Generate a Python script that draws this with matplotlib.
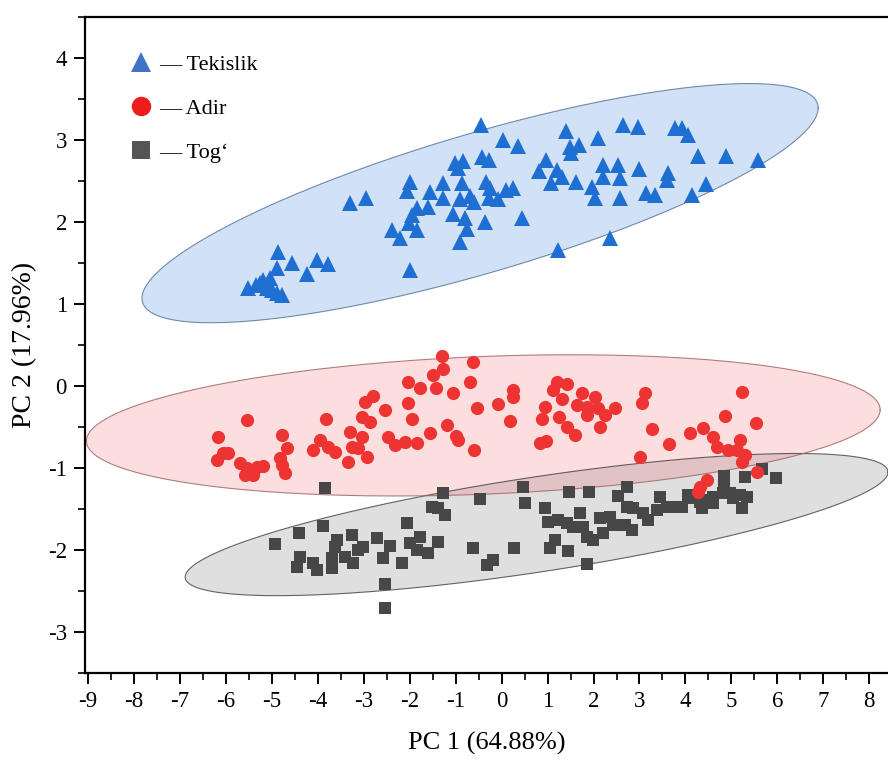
import numpy as np
import matplotlib
matplotlib.use("Agg")
import matplotlib.pyplot as plt
from matplotlib.lines import Line2D
from matplotlib.ticker import MultipleLocator

plt.rcParams['font.family'] = ['Liberation Serif', 'DejaVu Serif']
plt.rcParams['axes.unicode_minus'] = False

# ---------------- data ----------------
tek_x = [-5.52, -5.34, -5.26, -5.19, -5.11, -5.04, -5.00, -4.89, -4.78, -4.89, -4.87, -4.56, -4.23, -4.02, -3.78,
         -3.30, -2.95, -1.99,
         -0.45, 0.03, 0.36, 1.40, 2.65, 2.10, 1.49, 1.69, 1.51, -1.01, -0.84, -0.95, -0.42, -0.27, 0.97, 0.82,
         1.21, 1.32, 2.21, 2.54, 2.21, 2.58, 1.08, 1.62, 1.97, 2.04, 2.58, -1.99, -2.06, -1.56, -1.27, -1.27,
         -0.86, -0.90, -0.69, -0.60, -0.34, -0.25, -0.27, -0.08, 0.10, 0.25, -1.84, -1.60, -1.95, -2.01, -1.06,
         -0.79, -0.36, 0.45, -2.38, -2.21, -1.84, -0.90, -0.75, 1.23, 2.36,
         2.97, 3.78, 3.93, 4.06, 4.28, 4.89, 5.58, 2.99, 3.62, 3.60, 3.15, 3.34, 4.45, 4.15]
tek_y = [1.20, 1.23, 1.26, 1.29, 1.20, 1.32, 1.17, 1.13, 1.11, 1.44, 1.63, 1.50, 1.37, 1.54, 1.49,
         2.23, 2.29, 1.41,
         3.18, 3.00, 2.93, 3.11, 3.18, 3.02, 2.91, 2.94, 2.84, 2.72, 2.74, 2.66, 2.79, 2.76, 2.76, 2.62,
         2.63, 2.55, 2.70, 2.70, 2.55, 2.54, 2.48, 2.49, 2.43, 2.29, 2.29, 2.49, 2.38, 2.37, 2.48, 2.29,
         2.48, 2.28, 2.32, 2.24, 2.49, 2.41, 2.29, 2.28, 2.39, 2.41, 2.17, 2.18, 2.09, 1.99, 2.10,
         2.05, 2.00, 2.05, 1.90, 1.80, 1.90, 1.76, 1.91, 1.66, 1.80,
         3.16, 3.15, 3.15, 3.06, 2.80, 2.80, 2.76, 2.65, 2.60, 2.51, 2.35, 2.33, 2.46, 2.33]

adir_x = [-6.17, -5.54, -6.06, -6.19, -5.95, -5.69, -5.54, -5.58, -5.41, -5.32, -5.19, -4.78, -4.67, -4.82,
          -4.78, -4.71, -3.82, -3.95, -4.10, -3.78, -3.62, -3.34, -3.30, -3.25, -3.04, -3.12, -2.93, -3.04,
          -2.86, -2.97, -2.80, -2.54, -2.47, -2.32, -2.10, -1.84, -1.56, -1.95, -2.04, -2.04, -1.77, -1.49,
          -1.27, -1.30, -1.43, -1.06, -0.69, -0.62, -1.19, -0.99, -0.95, -0.60, -0.53,
          -0.08, 0.25, 0.25, 0.19, 1.21, 1.43, 1.12, 1.32, 0.95, 0.88, 1.25, 1.43, 1.60, 0.84, 0.97,
          1.75, 2.04, 1.64, 1.86, 2.10, 1.86, 2.14, 2.47, 2.25, 3.12, 3.06, 3.28, 3.02, 3.65, 4.10,
          4.39, 4.60, 4.69, 4.87, 4.93, 5.19, 5.13, 5.30, 5.24, 5.24, 5.54, 5.56, 4.32, 4.47, 4.28]
adir_y = [-0.62, -0.41, -0.82, -0.90, -0.82, -0.94, -1.00, -1.09, -1.09, -0.99, -0.98, -0.60, -0.76, -0.88,
          -0.96, -1.06, -0.40, -0.66, -0.78, -0.74, -0.80, -0.93, -0.56, -0.74, -0.62, -0.76, -0.87, -0.38,
          -0.44, -0.20, -0.12, -0.29, -0.62, -0.72, -0.68, -0.70, -0.57, -0.40, -0.21, 0.05, -0.02, 0.13,
          0.21, 0.37, -0.02, -0.09, 0.05, 0.29, -0.48, -0.61, -0.66, -0.78, -0.27,
          -0.22, -0.05, -0.13, -0.43, 0.05, 0.02, -0.05, -0.16, -0.26, -0.40, -0.38, -0.50, -0.60, -0.70, -0.67,
          -0.09, -0.13, -0.23, -0.26, -0.27, -0.35, -0.50, -0.27, -0.35, -0.09, -0.21, -0.52, -0.87, -0.71, -0.57,
          -0.51, -0.62, -0.74, -0.37, -0.78, -0.66, -0.78, -0.84, -0.93, -0.07, -0.45, -1.05, -1.23, -1.15, -1.29]

tog_x = [-3.84, -1.27, -1.51, -1.38, -1.23, -0.47, 0.47, 0.51, -3.89, -4.41, -4.93, -3.25, -3.58, -3.62,
         -2.71, -3.02, -3.12, -2.43, -2.58, -2.06, -1.77, -1.99, -1.84, -1.60, -1.38, -4.39, -4.45, -4.10,
         -4.02, -3.69, -3.69, -3.41, -3.23, -2.17, -2.54, -2.54, -0.62, 0.27, -0.19, -0.32,
         1.47, 1.90, 2.73, 2.54, 0.95, 1.01, 1.06, 1.16, 1.45, 1.86, 1.71, 1.77, 1.56, 1.43, 1.23, 1.86,
         1.99, 2.21, 2.14, 2.36, 2.43, 2.69, 2.84, 2.73, 2.86, 3.08, 3.19, 3.39, 3.45, 3.60, 3.73, 3.93,
         4.06, 4.17, 4.32, 4.36, 4.47, 4.60, 4.60, 4.84, 4.84, 4.82, 4.97, 5.04, 5.19, 5.34, 5.24, 5.30,
         5.67, 5.98]
tog_y = [-1.24, -1.30, -1.48, -1.49, -1.57, -1.38, -1.23, -1.43, -1.71, -1.79, -1.93, -1.82, -1.88, -1.96,
         -1.85, -1.96, -2.00, -1.95, -2.10, -1.67, -1.84, -1.91, -2.00, -2.04, -1.90, -2.09, -2.21, -2.16,
         -2.24, -2.10, -2.22, -2.09, -2.16, -2.16, -2.41, -2.71, -1.98, -1.98, -2.12, -2.18,
         -1.29, -1.29, -1.23, -1.34, -1.49, -1.66, -1.98, -1.88, -2.01, -2.17, -1.55, -1.72, -1.72, -1.67,
         -1.63, -1.84, -1.88, -1.79, -1.61, -1.60, -1.70, -1.70, -1.76, -1.48, -1.49, -1.55, -1.63, -1.51,
         -1.35, -1.48, -1.48, -1.48, -1.33, -1.37, -1.41, -1.49, -1.39, -1.35, -1.43, -1.10, -1.21, -1.30,
         -1.30, -1.37, -1.33, -1.35, -1.49, -1.11, -1.01, -1.12]

# confidence ellipses: centre, semi-diameter to the x-extreme point, half vertical chord at centre
ell_center = {'Tekislik': (-0.47, 2.23), 'Adir': (-0.40, -0.48), 'Tog': (0.76, -1.69)}
ell_axis = {'Tekislik': (7.36, 1.16), 'Adir': (8.64, 0.19), 'Tog': (7.65, 0.64)}
ell_half = {'Tekislik': 0.884, 'Adir': 0.84, 'Tog': 0.585}

x_ticks = list(range(-9, 9))
y_ticks = list(range(-3, 5))

# ---------------- figure ----------------
fig = plt.figure(figsize=(8.88, 7.60), dpi=100)
ax = fig.add_axes([85 / 888, 87 / 760, 803 / 888, 656 / 760])

fill_cols = {'Tekislik': ('#1e6ed2', 0.20, '#50709a'),
             'Adir': ('#f03c3c', 0.17, '#a06060'),
             'Tog': ('#505050', 0.18, '#404040')}
t = np.linspace(0, 2 * np.pi, 400)
for key in ['Tog', 'Adir', 'Tekislik']:
    cx, cy = ell_center[key]
    axx, axy = ell_axis[key]
    h = ell_half[key]
    ex = cx + axx * np.cos(t)
    ey = cy + axy * np.cos(t) + h * np.sin(t)
    fc, a, ec = fill_cols[key]
    ax.fill(ex, ey, facecolor=fc, alpha=a, edgecolor='none', zorder=1)
    ax.plot(ex, ey, color=ec, lw=0.8, alpha=0.8, zorder=1.5)

tri_c, cir_c, sq_c = '#1f6fd2', '#ee3333', '#474747'
ax.plot(tog_x, tog_y, 's', color=sq_c, markersize=8.3, markeredgewidth=0, zorder=3)
ax.plot(adir_x, adir_y, 'o', color=cir_c, markersize=9.5, markeredgewidth=0, zorder=3)
ax.plot(tek_x, tek_y, '^', color=tri_c, markersize=11, markeredgewidth=0, zorder=3)

ax.set_xlim(-9.07, 8.41)
ax.set_ylim(-3.5, 4.5)
ax.set_xticks(x_ticks)
ax.set_xticklabels([str(v) for v in x_ticks])
ax.set_yticks(y_ticks)
ax.set_yticklabels([str(v) for v in y_ticks])
ax.xaxis.set_minor_locator(MultipleLocator(0.5))
ax.yaxis.set_minor_locator(MultipleLocator(0.5))
ax.tick_params(which='major', direction='out', length=8, width=1.4, labelsize=16.5, pad=5)
ax.tick_params(which='minor', direction='out', length=5, width=1.2)
for s in ['left', 'bottom', 'top']:
    ax.spines[s].set_linewidth(1.6)
ax.spines['right'].set_visible(False)

ax.set_xlabel('PC 1 (64.88%)', fontsize=19, labelpad=14)
ax.set_ylabel('PC 2 (17.96%)', fontsize=20, labelpad=8)

handles = [Line2D([], [], marker='^', color='#3f73c6', ls='none', markersize=15, markeredgewidth=0),
           Line2D([], [], marker='o', color='#ee1c1c', ls='none', markersize=14, markeredgewidth=0),
           Line2D([], [], marker='s', color='#555555', ls='none', markersize=12.5, markeredgewidth=0)]
labels = ['— Tekislik', '— Adir', '— Tog\u2018']
ax.legend(handles, labels, loc='upper left', bbox_to_anchor=(0.056, 0.943), frameon=False,
          fontsize=16, handlelength=1.0, handletextpad=0.3, labelspacing=1.05, borderpad=0,
          borderaxespad=0)

fig.savefig('out.png', dpi=100)
